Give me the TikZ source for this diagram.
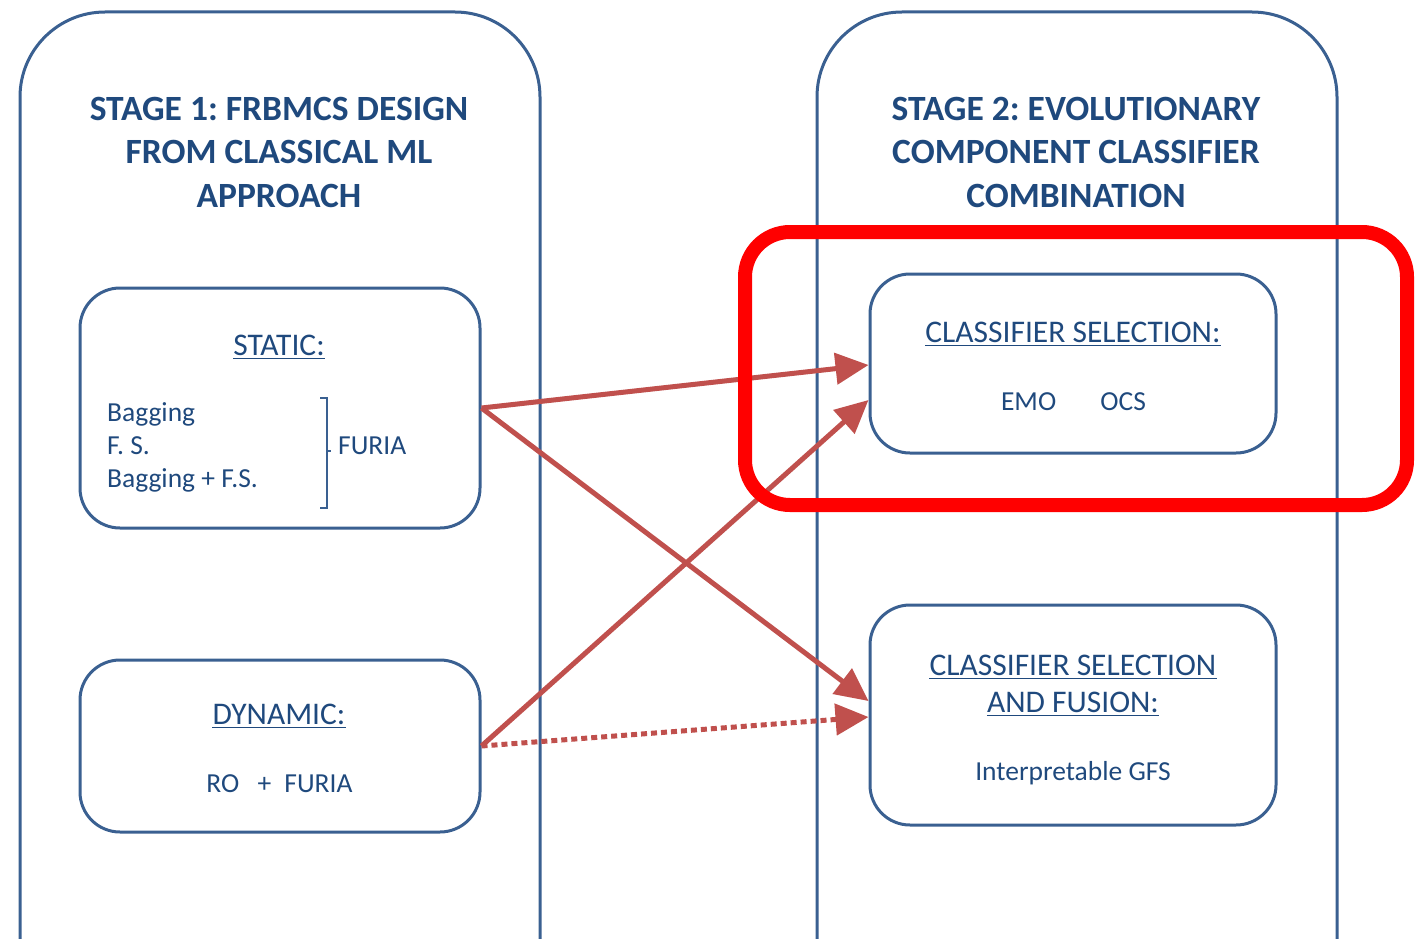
\documentclass[tikz,border=0pt]{standalone}
\usepackage{fontspec}
\setmainfont{Carlito}
\usetikzlibrary{arrows.meta,calc}
\definecolor{boxblue}{HTML}{3A6091}
\definecolor{textblue}{HTML}{1F497D}
\definecolor{arrowred}{HTML}{C0504D}
\definecolor{markred}{HTML}{FF0000}
\frenchspacing

\begin{document}
\begin{tikzpicture}[x=1pt,y=-1pt,
  stagebox/.style={draw=boxblue, line width=3pt, rounded corners=85pt,
    minimum width=520pt, minimum height=1100pt, inner sep=0pt},
  subbox/.style={draw=boxblue, line width=3pt, rounded corners=40pt, inner sep=0pt},
  titleline/.style={anchor=base, inner sep=0pt, text=textblue,
    font=\bfseries\fontsize{35.5}{43}\selectfont},
  heading/.style={anchor=base, inner sep=0pt, text=textblue,
    font=\fontsize{31.5}{38}\selectfont},
  body/.style={anchor=base, inner sep=0pt, text=textblue,
    font=\fontsize{27.5}{33}\selectfont},
  bodyleft/.style={body, anchor=base west},
  uline/.style={draw=textblue, line width=1.8pt},
  link/.style={draw=arrowred, line width=5pt, -{Triangle[length=33pt,width=31pt]}},
  dottedlink/.style={link, dash pattern=on 6pt off 4pt},
  bracket/.style={draw=boxblue, line width=1.6pt},
  highlight/.style={draw=markred, line width=14pt, rounded corners=45pt}
]
\useasboundingbox (0,0) rectangle (1416,939);
\clip (0,0) rectangle (1416,939);

% the two stage panels (open at the bottom edge)
\node[stagebox] (stage1) at (280,562) {};
\node[stagebox] (stage2) at (1077,562) {};

% panel titles
\node[titleline] (t1a) at (279,121) {STAGE 1: FRBMCS DESIGN};
\node[titleline] (t1b) at (279,164) {FROM CLASSICAL ML};
\node[titleline] (t1c) at (279,207) {APPROACH};
\node[titleline] (t2a) at (1076,121) {STAGE 2: EVOLUTIONARY};
\node[titleline] (t2b) at (1076,164) {COMPONENT CLASSIFIER};
\node[titleline] (t2c) at (1076,207) {COMBINATION};

% inner boxes
\node[subbox, minimum width=400pt, minimum height=240pt] (static) at (280,408) {};
\node[subbox, minimum width=400pt, minimum height=172pt] (dynamic) at (280,746) {};
\node[subbox, minimum width=406pt, minimum height=179pt] (sel) at (1073,363.5) {};
\node[subbox, minimum width=406pt, minimum height=220pt] (fus) at (1073,715) {};

% static box contents
\node[heading] (hstatic) at (279,355) {STATIC:};
\draw[uline] ($(hstatic.base west)+(0,3.5)$) -- ($(hstatic.base east)+(0,3.5)$);
\node[bodyleft] (bag) at (107,421) {Bagging};
\node[bodyleft] (fs) at (107,454) {F. S.};
\node[bodyleft] (bagfs) at (107,487) {Bagging + F.S.};
\draw[bracket] (320,398) -- (327,398) -- (327,508) -- (320,508);
\draw[bracket] (327,451) -- (331,451);
\node[bodyleft] (furia) at (338,454) {FURIA};

% dynamic box contents
\node[heading] (hdynamic) at (279,724) {DYNAMIC:};
\draw[uline] ($(hdynamic.base west)+(0,3.5)$) -- ($(hdynamic.base east)+(0,3.5)$);
\node[body] (ro) at (279.5,792) {RO\hspace{12pt} +\hspace{7pt} FURIA};

% classifier selection box contents
\node[heading] (hsel) at (1073,342) {CLASSIFIER SELECTION:};
\draw[uline] ($(hsel.base west)+(0,3.5)$) -- ($(hsel.base east)+(0,3.5)$);
\node[body] (emo) at (1073.5,410) {EMO\hspace{38pt} OCS};

% selection and fusion box contents
\node[heading] (hfusa) at (1073,675) {CLASSIFIER SELECTION};
\draw[uline] ($(hfusa.base west)+(0,3.5)$) -- ($(hfusa.base east)+(0,3.5)$);
\node[heading] (hfusb) at (1073,712) {AND FUSION:};
\draw[uline] ($(hfusb.base west)+(0,3.5)$) -- ($(hfusb.base east)+(0,3.5)$);
\node[body] (gfs) at (1073,780) {Interpretable GFS};

% connections
\draw[link] (static.east) -- ($(sel.west)+(0,1.5)$);
\draw[link] (static.east) -- ($(fus.west)+(0,-14)$);
\draw[link] (dynamic.east) -- ($(sel.west)+(0,36.5)$);
\draw[dottedlink] (dynamic.east) -- ($(fus.west)+(0,2)$);

% highlight frame
\draw[highlight] (745,232) rectangle (1407,505);
\end{tikzpicture}
\end{document}
